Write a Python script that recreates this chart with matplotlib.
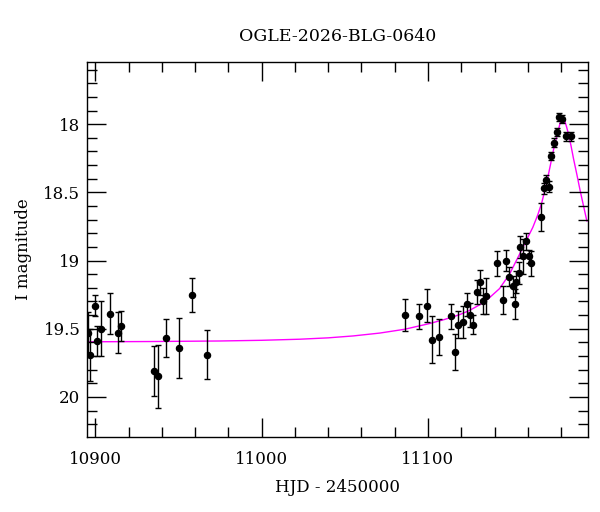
import matplotlib
matplotlib.use("Agg")
import matplotlib.pyplot as plt
from matplotlib.ticker import MultipleLocator, FormatStrFormatter

title = "OGLE-2026-BLG-0640"
xlabel = "HJD - 2450000"
ylabel = "I magnitude"

hjd = [10895.5, 10896.6, 10899.8, 10900.8, 10903.6, 10908.7, 10913.6, 10915.6,
       10935.5, 10937.7, 10942.5, 10950.5, 10958.3, 10967.3,
       11086.3, 11094.3, 11099.3, 11102.2, 11106.4, 11114.0, 11116.2, 11118.2,
       11121.0, 11123.2, 11125.2, 11126.8, 11129.2, 11131.2, 11132.8, 11135.0,
       11141.2, 11145.0, 11147.0, 11148.8, 11150.8, 11152.0, 11152.6, 11154.6,
       11155.6, 11157.4, 11158.7, 11160.6, 11161.8, 11167.8, 11169.6, 11170.8,
       11172.6, 11173.8, 11175.8, 11177.6, 11178.8, 11180.3, 11182.9, 11185.7]
mag = [19.53, 19.69, 19.33, 19.59, 19.50, 19.39, 19.53, 19.48,
       19.81, 19.85, 19.57, 19.64, 19.25, 19.69,
       19.40, 19.41, 19.33, 19.58, 19.56, 19.41, 19.67, 19.47,
       19.45, 19.32, 19.40, 19.47, 19.23, 19.16, 19.30, 19.26,
       19.02, 19.29, 19.00, 19.12, 19.19, 19.32, 19.16, 19.09,
       18.90, 18.97, 18.86, 18.97, 19.02, 18.68, 18.47, 18.41,
       18.46, 18.235, 18.135, 18.056, 17.95, 17.96, 18.09, 18.09]
err = [0.15, 0.19, 0.08, 0.11, 0.20, 0.15, 0.15, 0.11,
       0.18, 0.23, 0.14, 0.22, 0.125, 0.18,
       0.12, 0.09, 0.12, 0.17, 0.13, 0.09, 0.13, 0.10,
       0.12, 0.085, 0.09, 0.07, 0.09, 0.09, 0.095, 0.13,
       0.09, 0.105, 0.08, 0.07, 0.08, 0.11, 0.08, 0.08,
       0.08, 0.13, 0.06, 0.05, 0.09, 0.10, 0.04, 0.04,
       0.04, 0.03, 0.03, 0.03, 0.03, 0.03, 0.03, 0.03]

# model curve
model_t = [10895.0, 10933.0, 10975.0, 11000.0, 11023.0, 11040.0, 11055.0,
           11071.0, 11086.0, 11101.0, 11110.0, 11119.0, 11125.0, 11131.0,
           11137.0, 11143.0, 11149.0, 11155.0,
           11159.0, 11163.0, 11166.0, 11168.3, 11171.0, 11173.3, 11175.5,
           11177.3, 11178.5, 11179.5, 11180.5, 11181.3, 11182.2, 11183.3,
           11184.5, 11186.0, 11187.5, 11189.5, 11191.5, 11193.5, 11195.5]
model_m = [19.596, 19.594, 19.590, 19.585, 19.577, 19.567, 19.553,
           19.532, 19.504, 19.462, 19.432, 19.397, 19.366, 19.325,
           19.272, 19.206, 19.100, 18.955,
           18.855, 18.757, 18.665, 18.58, 18.45, 18.316, 18.185,
           18.096, 18.035, 17.99, 17.963, 17.96, 17.975, 18.02,
           18.075, 18.16, 18.255, 18.37, 18.49, 18.60, 18.71]

fig = plt.figure(figsize=(6.0, 5.12), dpi=100)
ax = fig.add_axes([0.1455, 0.1465, 0.834, 0.7325])
plt.rcParams['font.family'] = ['DejaVu Serif']

ax.plot(model_t, model_m, color='#ff00ff', lw=1.0, zorder=1)
ax.errorbar(hjd, mag, yerr=err, fmt='o', color='black', ms=4.4,
            ecolor='black', elinewidth=1.0, capsize=2.5, capthick=1.0, zorder=2)

ax.set_xlim(10895.2, 11196.0)
ax.set_ylim(20.294, 17.544)

ax.xaxis.set_major_locator(MultipleLocator(100))
ax.xaxis.set_minor_locator(MultipleLocator(20))
ax.yaxis.set_major_locator(MultipleLocator(0.5))
ax.yaxis.set_minor_locator(MultipleLocator(0.1))
ax.yaxis.set_major_formatter(FormatStrFormatter('%g'))

ax.tick_params(which='both', direction='in', top=True, right=True, width=1.0)
ax.tick_params(which='major', length=13.5)
ax.tick_params(which='minor', length=7)
ax.tick_params(axis='x', which='major', pad=10)
ax.tick_params(axis='y', which='major', pad=5)
for lab in ax.get_xticklabels() + ax.get_yticklabels():
    lab.set_family('DejaVu Serif')
    lab.set_fontsize(12)
for s in ax.spines.values():
    s.set_linewidth(1.0)

ax.set_title(title, fontsize=12.5, family='DejaVu Serif', pad=15)
ax.set_xlabel(xlabel, fontsize=12, family='DejaVu Serif', labelpad=8)
ax.set_ylabel(ylabel, fontsize=12, family='DejaVu Serif', labelpad=8)

fig.savefig("out.png", dpi=100)
